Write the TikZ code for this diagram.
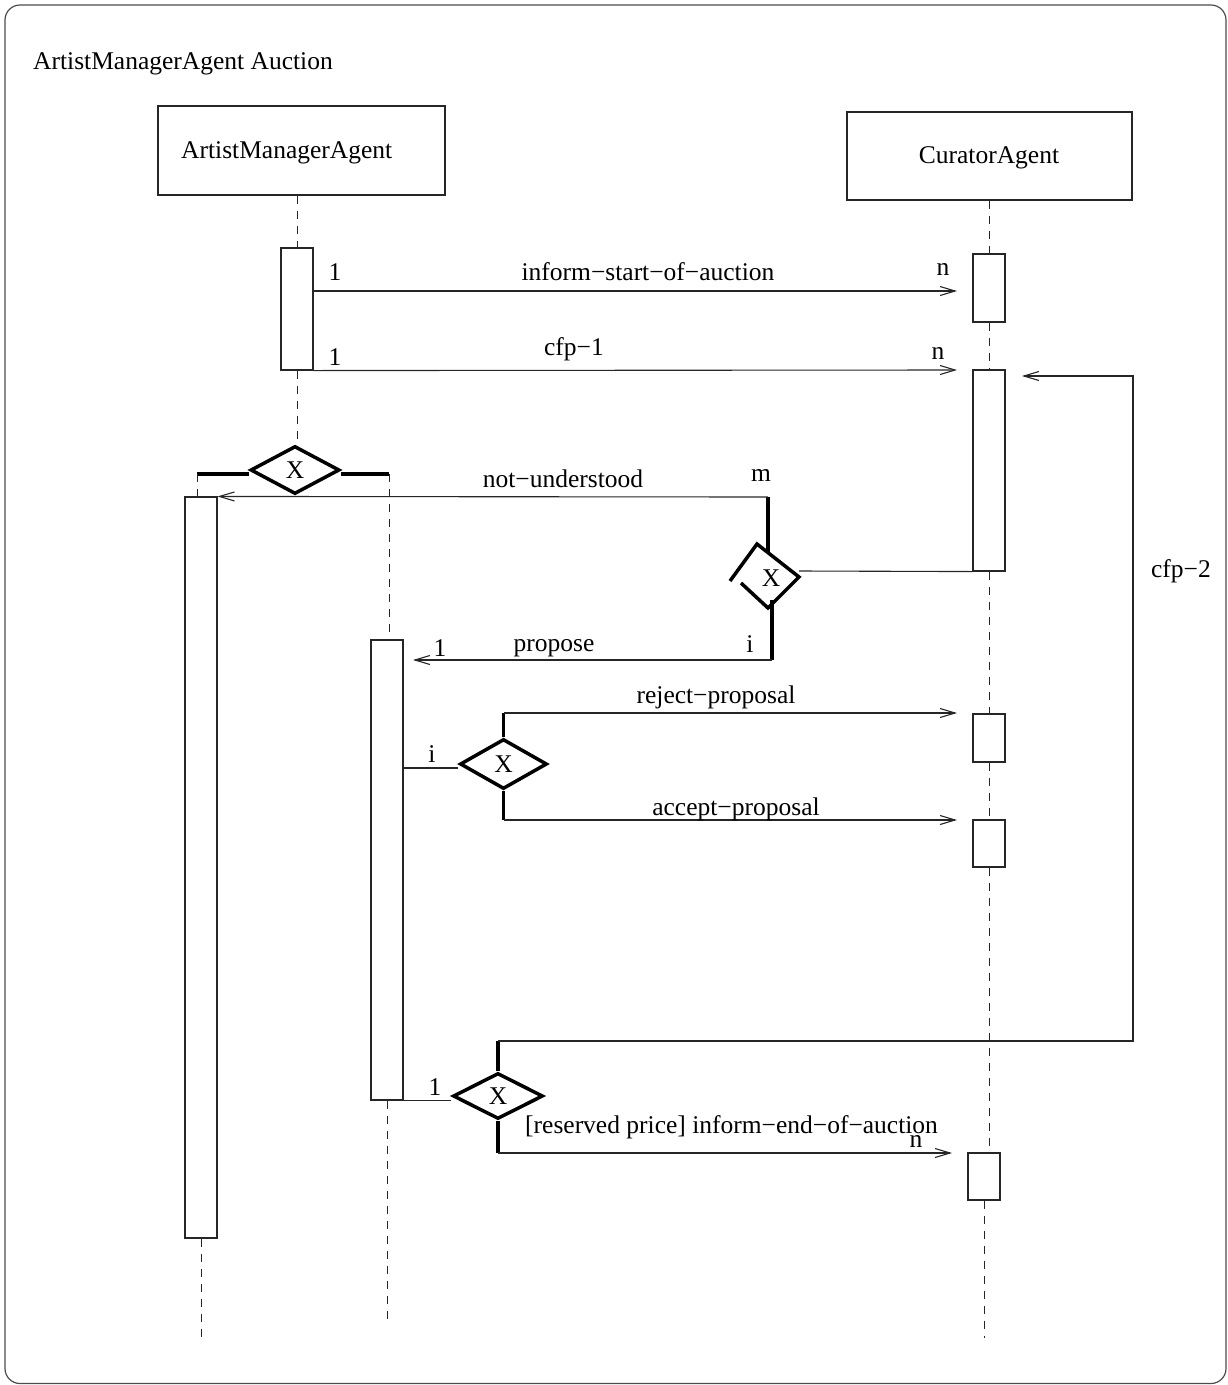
\documentclass[tikz,border=0pt]{standalone}
\usepackage{fontspec}
\setmainfont{Liberation Serif}
\usetikzlibrary{arrows.meta,shapes.geometric}
\begin{document}
\begin{tikzpicture}[x=1pt,y=-1pt,
  font=\fontsize{25.5}{30}\selectfont,
  thinl/.style={line width=1.1pt, draw=black!85},
  msg/.style={thinl, -{Straight Barb[length=15pt,width=9pt]}},
  thickl/.style={line width=3.5pt, draw=black},
  life/.style={line width=1pt, draw=black!85, dash pattern=on 8pt off 7pt},
  act/.style={draw=black!85, line width=1.1pt, minimum width=32pt, inner sep=0pt, fill=white},
  head/.style={draw=black!85, line width=1.1pt, inner sep=0pt},
  choice/.style={diamond, draw=black, line width=3.5pt, inner sep=0pt, line join=miter},
  lbl/.style={anchor=base, inner sep=0pt}]
\useasboundingbox (0,0) rectangle (1228,1385);
\draw[black!70, line width=1.2pt, rounded corners=15pt] (5,5) rectangle (1226,1383.5);
\node[lbl, anchor=base west] (title) at (33,69) {ArtistManagerAgent Auction};

% heads
\node[head, minimum width=287pt, minimum height=89pt] (H1) at (301.5,150.5) {};
\node[lbl, anchor=base west] (H1t) at (181,158) {ArtistManagerAgent};
\node[head, minimum width=285pt, minimum height=88pt] (H2) at (989.5,156) {};
\node[lbl] (H2t) at (989,163) {CuratorAgent};

% activations
\node[act, minimum height=122pt] (A1) at (297,309) {};
\node[act, minimum height=68pt] (C1) at (989,288) {};
\node[act, minimum height=201pt] (C2) at (989,470.5) {};
\node[act, minimum height=48pt] (C3) at (989,738) {};
\node[act, minimum height=47pt] (C4) at (989,843.5) {};
\node[act, minimum height=47pt] (C5) at (984,1176.5) {};
\node[act, minimum height=741pt] (L) at (201,867.5) {};
\node[act, minimum height=460pt] (R) at (387,870) {};

% choices
\node[choice, minimum width=89pt, minimum height=48pt] (D1) at (295,470) {X};
\node[choice, minimum width=87pt, minimum height=50pt] (D3) at (503.5,764) {X};
\node[choice, minimum width=90pt, minimum height=46pt] (D4) at (498,1096) {X};
\node[inner sep=0pt] (D2) at (771,578) {X};
\draw[thickl, line join=miter] (730,581) -- (757,544) -- (799,577) -- (768,608) -- (741,583);

% coordinates
\coordinate (b1l) at (197,474);
\coordinate (b1r) at (389,474);
\coordinate (Lend) at (201,1340);
\coordinate (Rend) at (387,1325);
\coordinate (Cend) at (984,1338);
\coordinate (m1s) at (313,291);
\coordinate (m1e) at (957,291);
\coordinate (m2e) at (957,370);
\coordinate (k1) at (498,1041);
\coordinate (k2) at (1133,1041);
\coordinate (k3) at (1133,376);
\coordinate (k4) at (1022,376);
\coordinate (n1) at (768,497);
\coordinate (n2) at (768,552);
\coordinate (d2r) at (799,571);
\coordinate (p1) at (772,600);
\coordinate (p2) at (772,660);
\coordinate (p3) at (413,660);
\coordinate (i3) at (403,768);
\coordinate (r1) at (503.5,713);
\coordinate (r2) at (957,713);
\coordinate (a1) at (503.5,820);
\coordinate (a2) at (957,820);
\coordinate (e1) at (498,1153);
\coordinate (e2) at (952,1153);

% bars of top choice
\draw[thickl] (b1l) -- (b1l -| D1.west);
\draw[thickl] (D1.east |- b1r) -- (b1r);

% lifelines
\draw[life] (A1.north |- H1.south) -- (A1.north);
\draw[life] (A1.south) -- (A1.south |- D1.north);
\draw[life] (b1l) -- (b1l |- L.north);
\draw[life] (b1r) -- (b1r |- R.north);
\draw[life] (L.south) -- (Lend);
\draw[life] (R.south) -- (Rend);
\draw[life] (C1.north |- H2.south) -- (C1.north);
\draw[life] (C1.south) -- (C2.north);
\draw[life] (C2.south) -- (C3.north);
\draw[life] (C3.south) -- (C4.north);
\draw[life] (C4.south) -- (C4.south |- C5.north);
\draw[life] (C5.south) -- (Cend);

% messages
\draw[msg] (m1s) -- (m1e);
\draw[msg] (A1.south east) -- (m2e);
\draw[thickl] (D4.north) -- (k1);
\draw[msg] (k1) -- (k2) -- (k3) -- (k4);
\draw[thickl] (n1) -- (n2);
\draw[msg] (n1) -- (L.north east);
\draw[thinl] (d2r) -- (C2.south west);
\draw[thickl] (p1) -- (p2);
\draw[msg] (p2) -- (p3);
\draw[thinl] (i3) -- (i3 -| D3.west);
\draw[thickl] (D3.north) -- (r1);
\draw[msg] (r1) -- (r2);
\draw[thickl] (D3.south) -- (a1);
\draw[msg] (a1) -- (a2);
\draw[thinl] (R.south east) -- (R.south east -| D4.west);
\draw[thickl] (D4.south) -- (e1);
\draw[msg] (e1) -- (e2);

% labels
\node[lbl] (l1a) at (335,280) {1};
\node[lbl] (l1b) at (648,280) {inform−start−of−auction};
\node[lbl] (l1c) at (943,275) {n};
\node[lbl] (l2a) at (335,365) {1};
\node[lbl] (l2b) at (574,355) {cfp−1};
\node[lbl] (l2c) at (938,359) {n};
\node[lbl] (l3a) at (563,487) {not−understood};
\node[lbl] (l3b) at (761,481) {m};
\node[lbl] (l4a) at (440,656) {1};
\node[lbl] (l4b) at (554,651) {propose};
\node[lbl] (l4c) at (750,652) {i};
\node[lbl] (l5a) at (716,703) {reject−proposal};
\node[lbl] (l5b) at (432,762) {i};
\node[lbl] (l5c) at (736,815) {accept−proposal};
\node[lbl] (l6a) at (435,1095) {1};
\node[lbl, anchor=base west] (l6b) at (525,1133) {[reserved price] inform−end−of−auction};
\node[lbl] (l6c) at (916,1147) {n};
\node[lbl] (l7) at (1181,577) {cfp−2};
\end{tikzpicture}
\end{document}
